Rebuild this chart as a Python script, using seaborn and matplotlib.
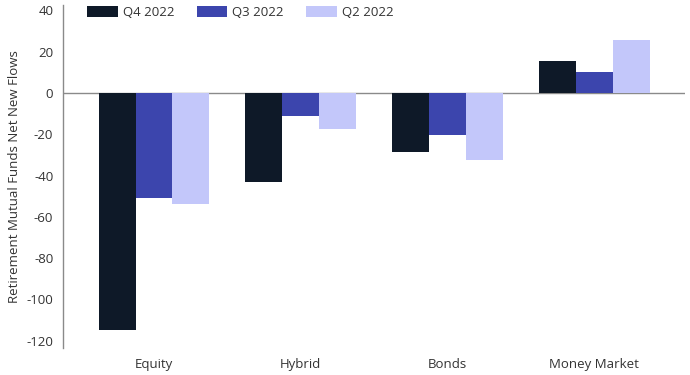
import pandas as pd
import matplotlib.pyplot as plt
import seaborn as sns

categories = ['Equity', 'Hybrid', 'Bonds', 'Money Market']
q4_2022 = [-115, -43, -28.5, 15.5]
q3_2022 = [-51, -11, -20.5, 10]
q2_2022 = [-54, -17.5, -32.5, 25.5]
series = ['Q4 2022', 'Q3 2022', 'Q2 2022']
colors = ['#0e1928', '#3c45ad', '#c3c7fa']

df = pd.DataFrame({'Category': categories * 3,
                   'Quarter': [s for s in series for _ in categories],
                   'Flows': q4_2022 + q3_2022 + q2_2022})

sns.set_style('white')
plt.rcParams['font.family'] = ['Open Sans', 'DejaVu Sans']
plt.rcParams['axes.unicode_minus'] = False

fig = plt.figure(figsize=(6.9, 3.75), dpi=100)
ax = fig.add_axes([0.0913, 0.072, 0.9017, 0.915])

sns.barplot(data=df, x='Category', y='Flows', hue='Quarter', order=categories,
            hue_order=series, palette=colors, width=0.755, saturation=1,
            ax=ax, errorbar=None, linewidth=0, edgecolor='none')

ax.set_ylim(-123.6, 42.7)
ax.set_xlim(-0.62, 3.62)
ax.set_yticks(range(-120, 41, 20))
ax.axhline(0, color='#8a8a8a', lw=1, zorder=0)
for s in ['top', 'right', 'bottom']:
    ax.spines[s].set_visible(False)
ax.spines['left'].set_color('#8a8a8a')
ax.spines['left'].set_linewidth(1)
ax.tick_params(axis='both', length=0, labelsize=9.5, colors='#333333', pad=7)
ax.set_xlabel('')
ax.set_ylabel('Retirement Mutual Funds Net New Flows', fontsize=9.5,
              color='#333333', labelpad=4)

ax.legend(loc='upper left', bbox_to_anchor=(0.02, 1.03), ncol=3, frameon=False,
          fontsize=9.5, handlelength=2.3, handleheight=0.9, handletextpad=0.4,
          columnspacing=1.7, labelcolor='#333333')

fig.savefig('out.png', dpi=100)
